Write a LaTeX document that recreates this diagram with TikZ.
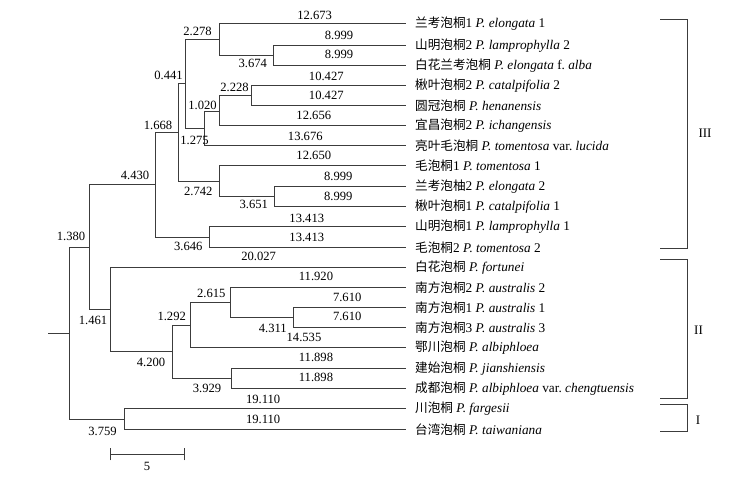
\documentclass[tikz,border=0pt]{standalone}
\usepackage{fontspec}
\setmainfont{Liberation Serif}
\newfontfamily\cjk[Scale=0.95]{Noto Sans CJK SC}
\definecolor{treecol}{RGB}{60,60,60}
\tikzset{
  branch/.style={draw=treecol, line width=1pt},
  num/.style={font=\fontsize{12.6}{14}\selectfont, inner sep=0pt},
  leaflab/.style={anchor=west, font=\fontsize{13.3}{15}\selectfont, inner sep=0pt},
  cladelab/.style={font=\fontsize{13}{15}\selectfont, inner sep=0pt},
}
\begin{document}
\begin{tikzpicture}[x=1pt,y=-1pt]
\useasboundingbox (0,0) rectangle (729,478);
% leaf tips
\foreach \i/\yy in {1/24,2/45.5,3/65.5,4/85.7,5/106,6/126,7/145.5,8/165.7,9/187,10/207,11/227,12/247.5,13/268,14/288,15/308,16/328,17/348,18/368.3,19/388.3,20/409,21/429.5}
  {\coordinate (t\i) at (406,\yy);}
% internal nodes
\coordinate (E) at (273.3,55.5);
\coordinate (D) at (219.3,40);
\coordinate (H) at (251.7,95.5);
\coordinate (G) at (219.3,111.7);
\coordinate (F) at (204.3,128.3);
\coordinate (C) at (185,84);
\coordinate (J) at (274,197);
\coordinate (I) at (219.3,182);
\coordinate (B) at (178.7,133);
\coordinate (K) at (209,237.5);
\coordinate (A) at (155.5,184.3);
\coordinate (P) at (293.3,318);
\coordinate (O) at (230,302.3);
\coordinate (N) at (190.7,326);
\coordinate (Q) at (231,378.3);
\coordinate (M) at (172.3,351.7);
\coordinate (L) at (110.3,309.3);
\coordinate (R) at (89.3,247.3);
\coordinate (S) at (124.3,419.3);
\coordinate (root) at (69.3,333.3);
\coordinate (stub) at (48,333.3);
% branches
\draw[branch] (stub) -- (root);
\draw[branch] (root) |- (R);  \draw[branch] (root) |- (S);
\draw[branch] (S) |- (t20);   \draw[branch] (S) |- (t21);
\draw[branch] (R) |- (A);     \draw[branch] (R) |- (L);
\draw[branch] (A) |- (B);     \draw[branch] (A) |- (K);
\draw[branch] (K) |- (t11);   \draw[branch] (K) |- (t12);
\draw[branch] (B) |- (C);     \draw[branch] (B) |- (I);
\draw[branch] (C) |- (D);     \draw[branch] (C) |- (F);
\draw[branch] (D) |- (t1);    \draw[branch] (D) |- (E);
\draw[branch] (E) |- (t2);    \draw[branch] (E) |- (t3);
\draw[branch] (F) |- (G);     \draw[branch] (F) |- (t7);
\draw[branch] (G) |- (H);     \draw[branch] (G) |- (t6);
\draw[branch] (H) |- (t4);    \draw[branch] (H) |- (t5);
\draw[branch] (I) |- (t8);    \draw[branch] (I) |- (J);
\draw[branch] (J) |- (t9);    \draw[branch] (J) |- (t10);
\draw[branch] (L) |- (t13);   \draw[branch] (L) |- (M);
\draw[branch] (M) |- (N);     \draw[branch] (M) |- (Q);
\draw[branch] (N) |- (O);     \draw[branch] (N) |- (t17);
\draw[branch] (O) |- (t14);   \draw[branch] (O) |- (P);
\draw[branch] (P) |- (t15);   \draw[branch] (P) |- (t16);
\draw[branch] (Q) |- (t18);   \draw[branch] (Q) |- (t19);
% internal branch labels
\node[num] (b1) at (71,236.5) {1.380};
\node[num] (b2) at (135,175) {4.430};
\node[num] (b3) at (158,125) {1.668};
\node[num] (b4) at (168.5,75) {0.441};
\node[num] (b5) at (197.5,31.7) {2.278};
\node[num] (b6) at (252.8,63.3) {3.674};
\node[num] (b7) at (234.5,87.3) {2.228};
\node[num] (b8) at (202.5,105) {1.020};
\node[num] (b9) at (194.5,140) {1.275};
\node[num] (b10) at (198.3,191.7) {2.742};
\node[num] (b11) at (253.8,204) {3.651};
\node[num] (b12) at (188.3,246) {3.646};
\node[num] (b13) at (93,320) {1.461};
\node[num] (b14) at (151,362.7) {4.200};
\node[num] (b15) at (171.7,316.7) {1.292};
\node[num] (b16) at (211.3,293.3) {2.615};
\node[num] (b17) at (272.8,328.3) {4.311};
\node[num] (b18) at (207,388.3) {3.929};
\node[num] (b19) at (102.5,431) {3.759};
% terminal branch labels
\node[num] (l1) at (314.7,15) {12.673};
\node[num] (l2) at (339,35) {8.999};
\node[num] (l3) at (339,54.5) {8.999};
\node[num] (l4) at (326.3,76) {10.427};
\node[num] (l5) at (326.3,95.7) {10.427};
\node[num] (l6) at (313.8,115) {12.656};
\node[num] (l7) at (305.3,136) {13.676};
\node[num] (l8) at (313.8,155) {12.650};
\node[num] (l9) at (338.3,176.7) {8.999};
\node[num] (l10) at (338.3,196) {8.999};
\node[num] (l11) at (306.8,218.3) {13.413};
\node[num] (l12) at (306.8,237.5) {13.413};
\node[num] (l13) at (258.7,256.7) {20.027};
\node[num] (l14) at (316,276.7) {11.920};
\node[num] (l15) at (347.2,297.3) {7.610};
\node[num] (l16) at (347.2,316.7) {7.610};
\node[num] (l17) at (304,337.7) {14.535};
\node[num] (l18) at (316,357.3) {11.898};
\node[num] (l19) at (316,377) {11.898};
\node[num] (l20) at (263.2,399.3) {19.110};
\node[num] (l21) at (263.2,419.5) {19.110};
% taxon labels
\node[leaflab] (n1) at (415,24) {{\cjk 兰考泡桐}1 \textit{P. elongata} 1};
\node[leaflab] (n2) at (415,45.5) {{\cjk 山明泡桐}2 \textit{P. lamprophylla} 2};
\node[leaflab] (n3) at (415,65.5) {{\cjk 白花兰考泡桐} \textit{P. elongata} f.\ \textit{alba}};
\node[leaflab] (n4) at (415,85.7) {{\cjk 楸叶泡桐}2 \textit{P. catalpifolia} 2};
\node[leaflab] (n5) at (415,106) {{\cjk 圆冠泡桐} \textit{P. henanensis}};
\node[leaflab] (n6) at (415,126) {{\cjk 宜昌泡桐}2 \textit{P. ichangensis}};
\node[leaflab] (n7) at (415,145.5) {{\cjk 亮叶毛泡桐} \textit{P. tomentosa} var.\ \textit{lucida}};
\node[leaflab] (n8) at (415,165.7) {{\cjk 毛泡桐}1 \textit{P. tomentosa} 1};
\node[leaflab] (n9) at (415,187) {{\cjk 兰考泡柚}2 \textit{P. elongata} 2};
\node[leaflab] (n10) at (415,207) {{\cjk 楸叶泡桐}1 \textit{P. catalpifolia} 1};
\node[leaflab] (n11) at (415,227) {{\cjk 山明泡桐}1 \textit{P. lamprophylla} 1};
\node[leaflab] (n12) at (415,247.5) {{\cjk 毛泡桐}2 \textit{P. tomentosa} 2};
\node[leaflab] (n13) at (415,268) {{\cjk 白花泡桐} \textit{P. fortunei}};
\node[leaflab] (n14) at (415,288) {{\cjk 南方泡桐}2 \textit{P. australis} 2};
\node[leaflab] (n15) at (415,308) {{\cjk 南方泡桐}1 \textit{P. australis} 1};
\node[leaflab] (n16) at (415,328) {{\cjk 南方泡桐}3 \textit{P. australis} 3};
\node[leaflab] (n17) at (415,348) {{\cjk 鄂川泡桐} \textit{P. albiphloea}};
\node[leaflab] (n18) at (415,368.3) {{\cjk 建始泡桐} \textit{P. jianshiensis}};
\node[leaflab] (n19) at (415,388.3) {{\cjk 成都泡桐} \textit{P. albiphloea} var.\ \textit{chengtuensis}};
\node[leaflab] (n20) at (415,409) {{\cjk 川泡桐} \textit{P. fargesii}};
\node[leaflab] (n21) at (415,429.5) {{\cjk 台湾泡桐} \textit{P. taiwaniana}};
% clade brackets
\coordinate (k3a) at (660,19.3); \coordinate (k3b) at (687,19.3);
\coordinate (k3c) at (687,249);  \coordinate (k3d) at (660,249);
\draw[branch] (k3a) -- (k3b) -- (k3c) -- (k3d);
\node[cladelab] (c3) at (705,133) {III};
\coordinate (k2a) at (660,259.3); \coordinate (k2b) at (687,259.3);
\coordinate (k2c) at (687,398.3); \coordinate (k2d) at (660,398.3);
\draw[branch] (k2a) -- (k2b) -- (k2c) -- (k2d);
\node[cladelab] (c2) at (698.5,330) {II};
\coordinate (k1a) at (660,405); \coordinate (k1b) at (687,405);
\coordinate (k1c) at (687,431.7); \coordinate (k1d) at (660,431.7);
\draw[branch] (k1a) -- (k1b) -- (k1c) -- (k1d);
\node[cladelab] (c1) at (698,420) {I};
% scale bar
\coordinate (sa) at (110.3,454.3); \coordinate (sb) at (184.3,454.3);
\draw[branch, line width=0.8pt] (sa) -- (sb);
\draw[branch, line width=0.8pt] ([yshift=-6pt]sa) -- ([yshift=6pt]sa);
\draw[branch, line width=0.8pt] ([yshift=-6pt]sb) -- ([yshift=6pt]sb);
\node[num] (s5) at (147,466.5) {5};
\end{tikzpicture}
\end{document}
